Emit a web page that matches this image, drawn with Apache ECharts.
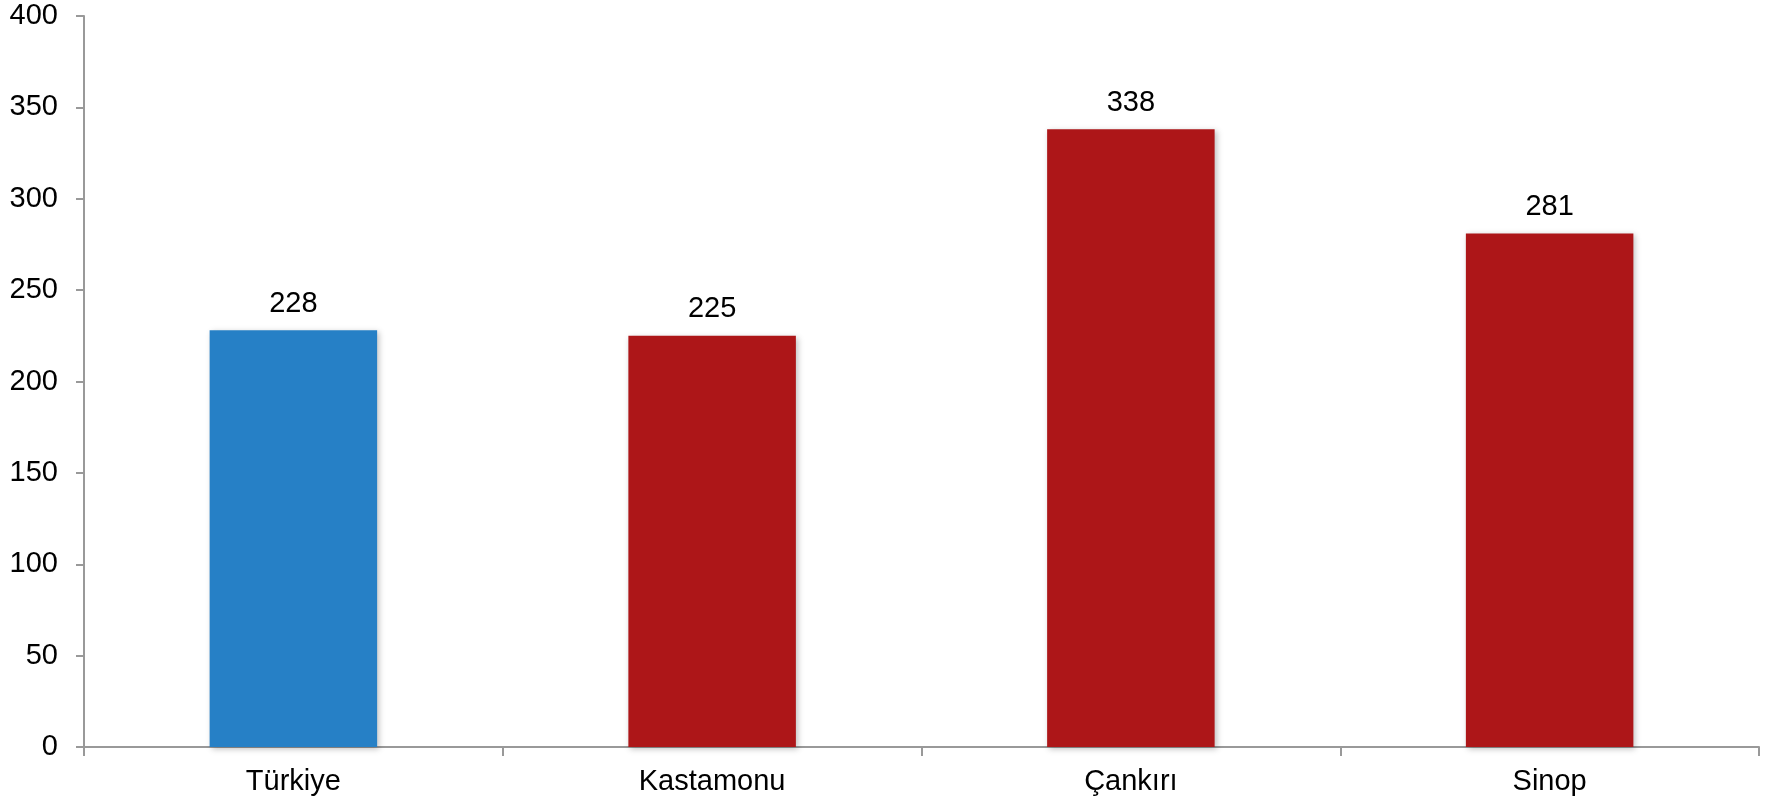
<!DOCTYPE html>
<html>
<head>
<meta charset="utf-8">
<script src="https://cdn.jsdelivr.net/npm/echarts@6/dist/echarts.min.js"></script>
<style>
html,body{margin:0;padding:0;background:#fff;}
#chart{width:1776px;height:802px;}
</style>
</head>
<body>
<div id="chart"></div>
<script>
const categories = ['Türkiye', 'Kastamonu', 'Çankırı', 'Sinop'];
const values = [228, 225, 338, 281];
const barColors = ['#2680C6', '#AD1618', '#AD1618', '#AD1618'];
const yTicks = [0, 50, 100, 150, 200, 250, 300, 350, 400];

const chart = echarts.init(document.getElementById('chart'));
const font = '"Liberation Sans", Arial, sans-serif';
chart.setOption({
  animation: false,
  grid: { left: 84, right: 17, top: 16, bottom: 55, containLabel: false },
  xAxis: {
    type: 'category',
    data: categories,
    axisLine: { show: true, lineStyle: { color: '#999', width: 2 } },
    axisTick: { show: true, alignWithLabel: false, length: 9, lineStyle: { color: '#999', width: 2 } },
    axisLabel: { color: '#000', fontSize: 29, fontFamily: font, margin: 20 },
    splitLine: { show: false }
  },
  yAxis: {
    type: 'value',
    min: yTicks[0],
    max: yTicks[yTicks.length - 1],
    interval: 50,
    axisLine: { show: true, lineStyle: { color: '#999', width: 2 } },
    axisTick: { show: true, length: 8, lineStyle: { color: '#999', width: 2 } },
    axisLabel: { color: '#000', fontSize: 29, fontFamily: font, margin: 26 },
    splitLine: { show: false }
  },
  series: [{
    type: 'bar',
    barWidth: '40%',
    data: values.map((v, i) => ({
      value: v,
      itemStyle: {
        color: barColors[i],
        shadowBlur: 6,
        shadowColor: 'rgba(0,0,0,0.25)',
        shadowOffsetX: 2,
        shadowOffsetY: 2
      }
    })),
    label: {
      show: true,
      position: 'top',
      distance: 12,
      color: '#000',
      fontSize: 29,
      fontFamily: font
    }
  }]
});
</script>
</body>
</html>
